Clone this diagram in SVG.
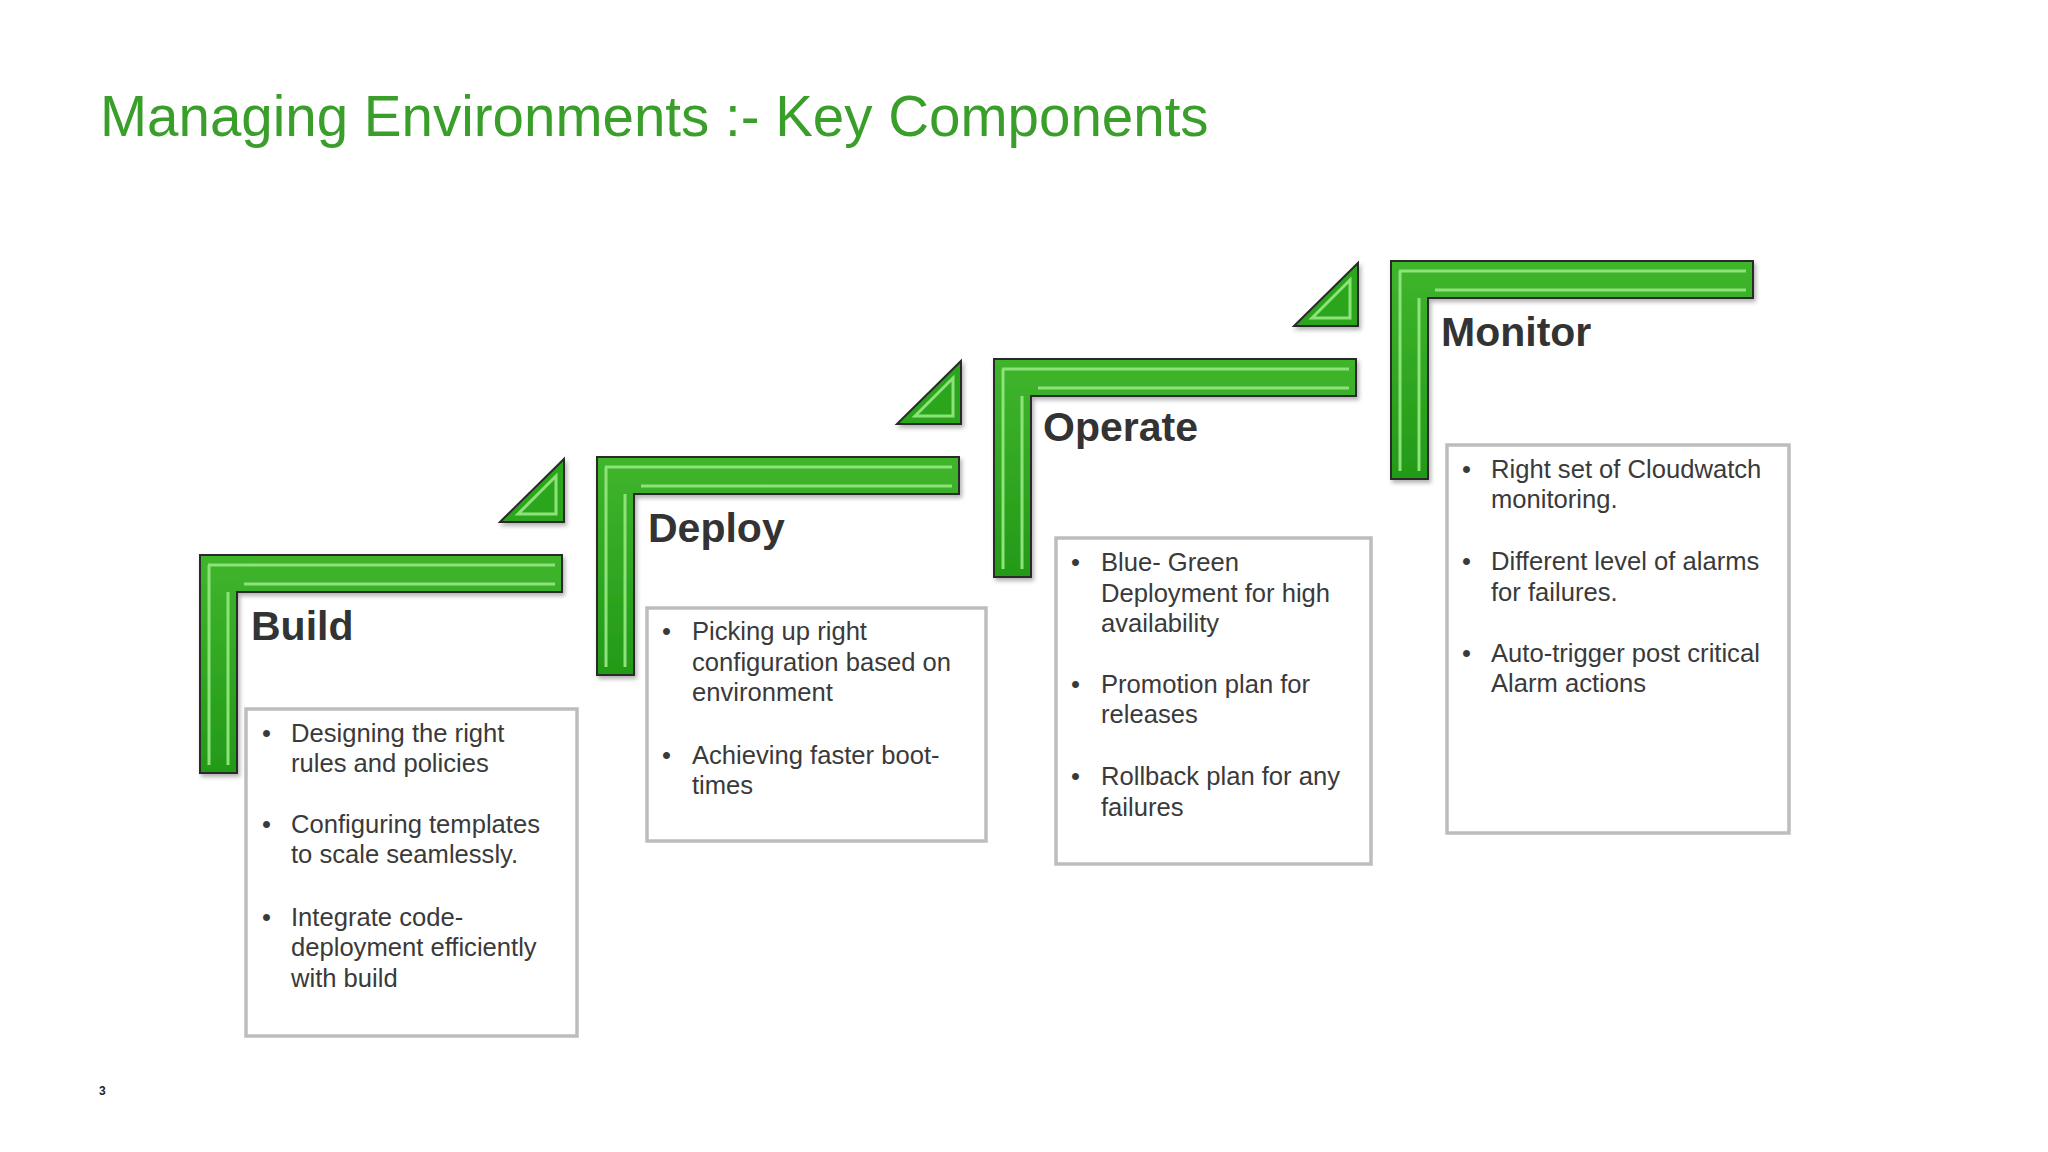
<svg xmlns="http://www.w3.org/2000/svg" xmlns:xlink="http://www.w3.org/1999/xlink" width="2048" height="1152" viewBox="0 0 2048 1152">
<style>
.t{font-family:"Liberation Sans",Arial,sans-serif;font-size:25.6px;fill:#3a3a3a}
.h{font-family:"Liberation Sans",Arial,sans-serif;font-size:41px;font-weight:bold;fill:#333}
.box{fill:#fff;stroke:#bdbdbd;stroke-width:3.5}
.hl{fill:none;stroke:#8ee27a;stroke-width:3;stroke-linejoin:miter}
</style>
<defs>
<linearGradient id="g" x1="0" y1="0" x2="0" y2="1"><stop offset="0" stop-color="#3fb52c"/><stop offset="1" stop-color="#239a18"/></linearGradient>
<filter id="sh" x="-10%" y="-10%" width="130%" height="130%"><feDropShadow dx="2" dy="3" stdDeviation="2" flood-color="#000" flood-opacity="0.3"/></filter>
<g id="step">
<path d="M200,555 H562 V592 H237 V773 H200 Z" fill="url(#g)" stroke="#2b2b2b" stroke-width="2" filter="url(#sh)"/>
<path class="hl" d="M208,565 H555"/>
<path class="hl" d="M244,584 H555"/>
<path class="hl" d="M228,592 V765"/>
<path class="hl" d="M209,565 V765"/>
</g>
<g id="tri">
<path d="M500,522 L564,459 V522 Z" fill="#2aa51d" stroke="#2b2b2b" stroke-width="2" filter="url(#sh)"/>
<path class="hl" d="M518,514 L556,476 V514 Z"/>
</g>
</defs>
<rect width="2048" height="1152" fill="#fff"/>
<text x="100" y="136" font-family="Liberation Sans,Arial,sans-serif" font-size="56.5" fill="#3a9e2a">Managing Environments :- Key Components</text>
<g id="build">
<use xlink:href="#step"/>
<use xlink:href="#tri"/>
<text class="h" x="251" y="640">Build</text>
<rect class="box" x="246" y="709" width="331" height="327"/>
<text class="t"><tspan x="262" y="742">•</tspan><tspan x="291" y="742">Designing the right</tspan><tspan x="291" y="772">rules and policies</tspan><tspan x="262" y="833">•</tspan><tspan x="291" y="833">Configuring templates</tspan><tspan x="291" y="863">to scale seamlessly.</tspan><tspan x="262" y="926">•</tspan><tspan x="291" y="926">Integrate code-</tspan><tspan x="291" y="956">deployment efficiently</tspan><tspan x="291" y="987">with build</tspan></text>
</g>
<g id="deploy">
<use xlink:href="#step" transform="translate(397,-98)"/>
<use xlink:href="#tri" transform="translate(397,-98)"/>
<text class="h" x="648" y="542">Deploy</text>
<rect class="box" x="647" y="608" width="339" height="233"/>
<text class="t"><tspan x="662" y="640">•</tspan><tspan x="692" y="640">Picking up right</tspan><tspan x="692" y="671">configuration based on</tspan><tspan x="692" y="701">environment</tspan><tspan x="662" y="764">•</tspan><tspan x="692" y="764">Achieving faster boot-</tspan><tspan x="692" y="794">times</tspan></text>
</g>
<g id="operate">
<use xlink:href="#step" transform="translate(794,-196)"/>
<use xlink:href="#tri" transform="translate(794,-196)"/>
<text class="h" x="1043" y="441">Operate</text>
<rect class="box" x="1056" y="538" width="315" height="326"/>
<text class="t"><tspan x="1071" y="571">•</tspan><tspan x="1101" y="571">Blue- Green</tspan><tspan x="1101" y="602">Deployment for high</tspan><tspan x="1101" y="632">availability</tspan><tspan x="1071" y="693">•</tspan><tspan x="1101" y="693">Promotion plan for</tspan><tspan x="1101" y="723">releases</tspan><tspan x="1071" y="785">•</tspan><tspan x="1101" y="785">Rollback plan for any</tspan><tspan x="1101" y="816">failures</tspan></text>
</g>
<g id="monitor">
<use xlink:href="#step" transform="translate(1191,-294)"/>
<text class="h" x="1441" y="346">Monitor</text>
<rect class="box" x="1447" y="445" width="342" height="388"/>
<text class="t"><tspan x="1462" y="478">•</tspan><tspan x="1491" y="478">Right set of Cloudwatch</tspan><tspan x="1491" y="508">monitoring.</tspan><tspan x="1462" y="570">•</tspan><tspan x="1491" y="570">Different level  of alarms</tspan><tspan x="1491" y="601">for failures.</tspan><tspan x="1462" y="662">•</tspan><tspan x="1491" y="662">Auto-trigger post critical</tspan><tspan x="1491" y="692">Alarm actions</tspan></text>
</g>
<g id="connectors"/>
<text x="99" y="1095" font-family="Liberation Sans,Arial,sans-serif" font-size="12" font-weight="bold" fill="#222">3</text>
</svg>
